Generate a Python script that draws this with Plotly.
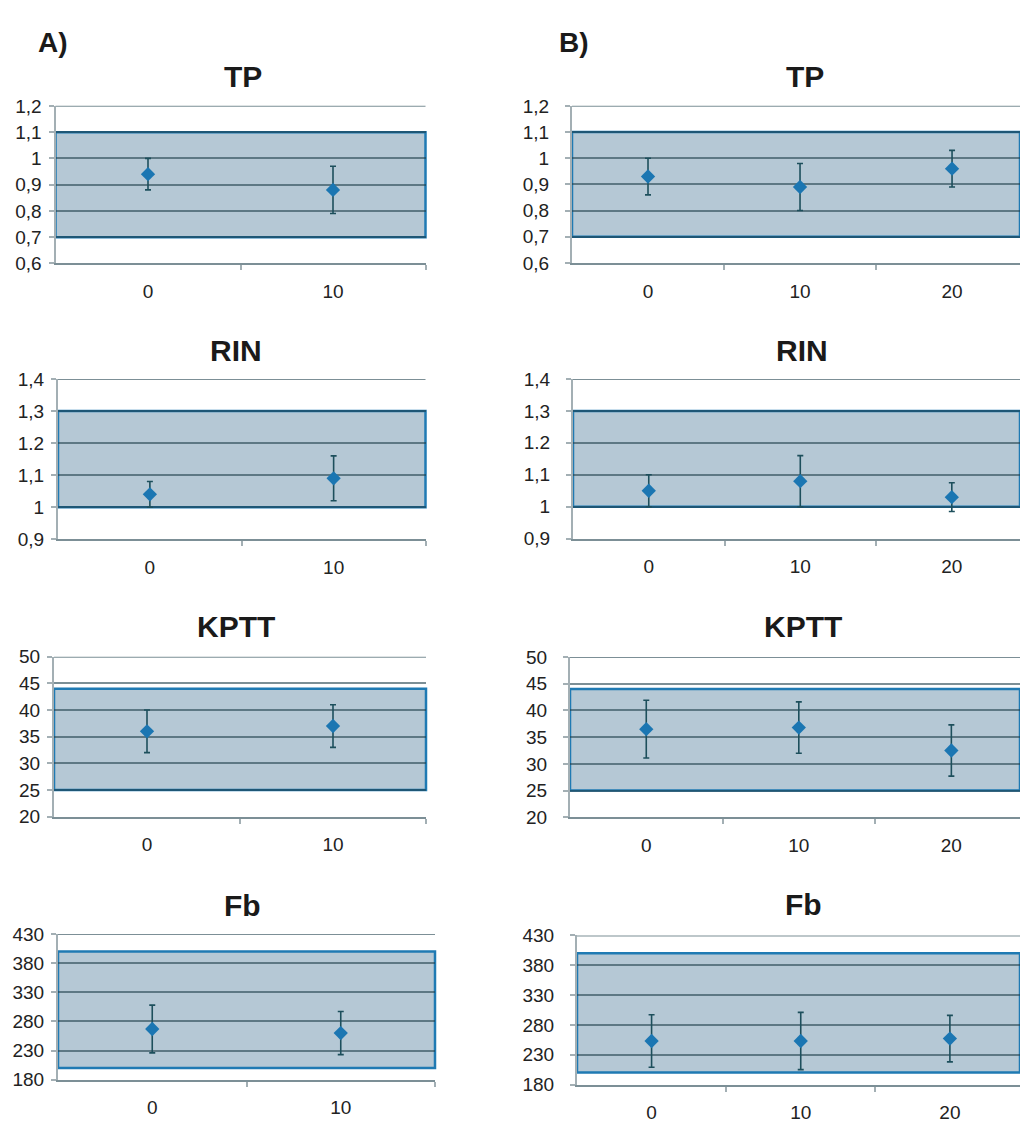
import plotly.graph_objects as go

W, H = 1020, 1124

# ---------------- data ----------------
panel_names = ["TP", "RIN", "KPTT", "Fb"]

A_x = [0, 10]
A_x_labels = ["0", "10"]
B_x = [0, 10, 20]
B_x_labels = ["0", "10", "20"]

A_TP_mean = [0.94, 0.88]
A_TP_err = [0.06, 0.09]
B_TP_mean = [0.93, 0.89, 0.96]
B_TP_err = [0.07, 0.09, 0.07]

A_RIN_mean = [1.04, 1.09]
A_RIN_err = [0.04, 0.07]
B_RIN_mean = [1.05, 1.08, 1.03]
B_RIN_err = [0.05, 0.08, 0.045]

A_KPTT_mean = [36, 37]
A_KPTT_err = [4, 4]
B_KPTT_mean = [36.5, 36.8, 32.5]
B_KPTT_err = [5.4, 4.8, 4.8]

A_Fb_mean = [267, 260]
A_Fb_err = [41, 37]
B_Fb_mean = [253, 253, 257]
B_Fb_err = [44, 48, 39]

ref_low = [0.7, 1.0, 25, 200]
ref_high = [1.1, 1.3, 44, 400]

TP_ticks = [0.6, 0.7, 0.8, 0.9, 1.0, 1.1, 1.2]
TP_ticktext = ["0,6", "0,7", "0,8", "0,9", "1", "1,1", "1,2"]
RIN_ticks = [0.9, 1.0, 1.1, 1.2, 1.3, 1.4]
RIN_ticktext = ["0,9", "1", "1,1", "1.2", "1,3", "1,4"]
KPTT_ticks = [20, 25, 30, 35, 40, 45, 50]
KPTT_ticktext = ["20", "25", "30", "35", "40", "45", "50"]
Fb_ticks = [180, 230, 280, 330, 380, 430]
Fb_ticktext = ["180", "230", "280", "330", "380", "430"]

# ---------------- layout geometry (pixels) ----------------
A_means = [A_TP_mean, A_RIN_mean, A_KPTT_mean, A_Fb_mean]
A_errs = [A_TP_err, A_RIN_err, A_KPTT_err, A_Fb_err]
B_means = [B_TP_mean, B_RIN_mean, B_KPTT_mean, B_Fb_mean]
B_errs = [B_TP_err, B_RIN_err, B_KPTT_err, B_Fb_err]
ticks_all = [TP_ticks, RIN_ticks, KPTT_ticks, Fb_ticks]
ticktext_all = [TP_ticktext, RIN_ticktext, KPTT_ticktext, Fb_ticktext]

A_xdom = [(55.5, 425.5), (58, 425.5), (54, 426), (58, 435)]
B_xdom = [(572, 1020), (573, 1020), (570, 1020), (577, 1020)]
B_xmax = [24.47, 24.5, 24.5, 24.7]
A_ydom = [(97.7, 258.3), (376, 539.3), (659, 822), (941.7, 1090)]
B_ydom = [(97.7, 257.7), (376, 538.7), (659.3, 822.7), (943, 1095)]

title_pos_A = [(243, 68), (236, 347), (236, 628), (242, 913)]
title_pos_B = [(805, 68), (802, 347), (803, 628), (803, 912)]

FONT = "Liberation Sans, Arial, sans-serif"
GRID = "rgba(30,62,74,0.58)"
AXIS = "#a3afb4"
FILL = "#b5c8d5"
EDGE = "#1f7ab3"
MARK = "#1b76b2"
ERRC = "#1d4f5c"

fig = go.Figure()
layout = {}
shapes = []
annotations = []


def px_x(v):
    return v / W


def px_y(v):
    return 1 - v / H


idx = 0
for col in range(2):
    for r in range(4):
        idx += 1
        xname = "xaxis" if idx == 1 else f"xaxis{idx}"
        yname = "yaxis" if idx == 1 else f"yaxis{idx}"
        xref = "x" if idx == 1 else f"x{idx}"
        yref = "y" if idx == 1 else f"y{idx}"
        if col == 0:
            xs, means, errs = A_x, A_means[r], A_errs[r]
            xdom, ydom = A_xdom[r], A_ydom[r]
            xrange = [-5, 15]
            xlabels = A_x_labels
            tpos = title_pos_A[r]
        else:
            xs, means, errs = B_x, B_means[r], B_errs[r]
            xdom, ydom = B_xdom[r], B_ydom[r]
            xrange = [-5, B_xmax[r]]
            xlabels = B_x_labels
            tpos = title_pos_B[r]
        yt = ticks_all[r]
        yrange = [yt[0], yt[-1]]

        fig.add_trace(go.Scatter(
            x=xs, y=means, mode="markers",
            marker=dict(symbol="diamond", size=11, color=MARK),
            error_y=dict(type="data", array=errs, visible=True,
                         color=ERRC, thickness=1.6, width=3),
            xaxis=xref, yaxis=yref, showlegend=False, cliponaxis=False,
        ))

        layout[xname] = dict(
            domain=[px_x(xdom[0]), px_x(xdom[1])],
            range=xrange, anchor=yref,
            tickvals=xs, ticktext=xlabels,
            ticks="outside", ticklen=10, tickcolor="rgba(0,0,0,0)",
            showgrid=False, zeroline=False,
            showline=True, linecolor=GRID, linewidth=2,
            tickfont=dict(family=FONT, size=19, color="#222"),
            minor=dict(tickvals=[5, 15], ticks="outside", ticklen=5,
                       tickcolor=AXIS, tickwidth=2, showgrid=False),
            fixedrange=True,
        )
        layout[yname] = dict(
            domain=[px_y(ydom[1]), px_y(ydom[0])],
            range=yrange, anchor=xref,
            tickvals=yt, ticktext=ticktext_all[r],
            ticks="outside", ticklen=5, tickcolor=AXIS, tickwidth=2,
            showgrid=True, gridcolor=GRID, gridwidth=2,
            zeroline=False,
            showline=True, linecolor=AXIS, linewidth=2,
            ticklabelstandoff=3 if col == 0 else 12,
            tickfont=dict(family=FONT, size=19, color="#222"),
            fixedrange=True,
        )

        shapes.append(dict(
            type="rect", xref=f"{xref} domain", yref=yref,
            x0=0, x1=1, y0=ref_low[r], y1=ref_high[r],
            fillcolor=FILL, line=dict(color=EDGE, width=2.5),
            layer="below",
        ))
        shapes.append(dict(
            type="line", xref=f"{xref} domain", yref=yref,
            x0=0, x1=1, y0=yt[-1], y1=yt[-1],
            line=dict(color=GRID, width=2), layer="below",
        ))

        annotations.append(dict(
            text=f"<b>{panel_names[r]}</b>", x=px_x(tpos[0]), y=px_y(tpos[1]),
            xref="paper", yref="paper", showarrow=False,
            xanchor="center", yanchor="middle",
            font=dict(family=FONT, size=30, color="#1a1a1a"),
        ))

annotations.append(dict(text="<b>A)</b>", x=px_x(53), y=px_y(33), xref="paper", yref="paper",
                        showarrow=False, xanchor="center", yanchor="middle",
                        font=dict(family=FONT, size=28, color="#1a1a1a")))
annotations.append(dict(text="<b>B)</b>", x=px_x(574), y=px_y(33), xref="paper", yref="paper",
                        showarrow=False, xanchor="center", yanchor="middle",
                        font=dict(family=FONT, size=28, color="#1a1a1a")))

fig.update_layout(
    width=W, height=H,
    margin=dict(l=0, r=0, t=0, b=0),
    paper_bgcolor="white", plot_bgcolor="white",
    shapes=shapes, annotations=annotations,
    **layout,
)

fig.write_html(
    "out.html",
    config={"displayModeBar": False, "staticPlot": True},
    post_script="document.body.style.margin='0';document.body.style.padding='0';"
                "document.body.style.overflow='hidden';",
)
